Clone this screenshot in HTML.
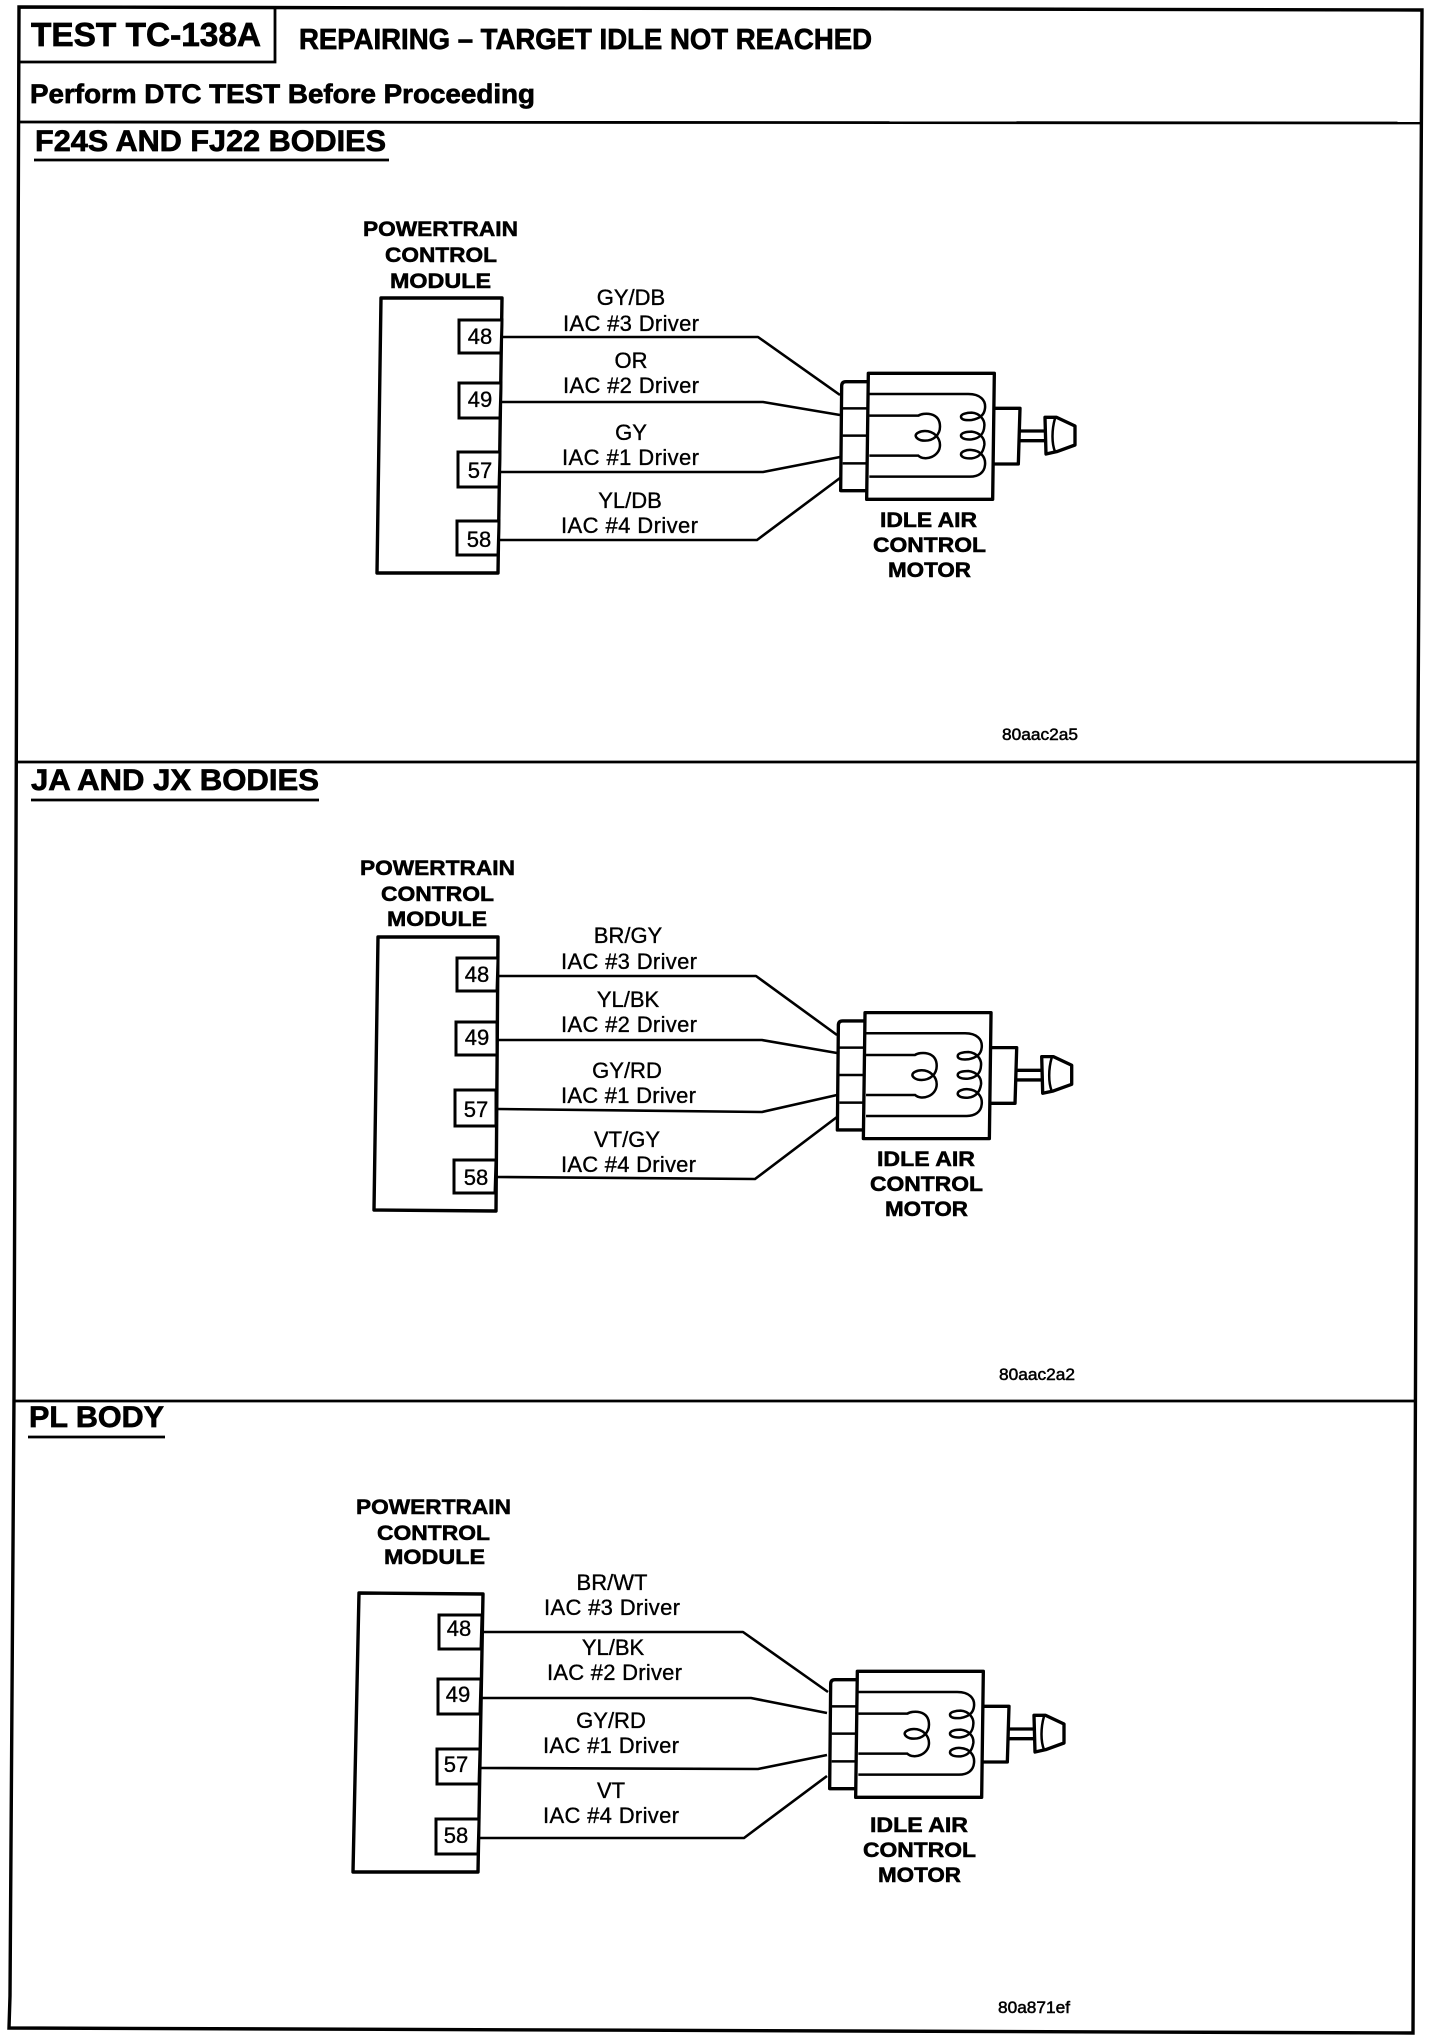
<!DOCTYPE html>
<html lang="en">
<head>
<meta charset="utf-8">
<title>Test TC-138A</title>
<style>
html,body{margin:0;padding:0;background:#fff}
svg{display:block}
text{font-family:"Liberation Sans",Arial,sans-serif;fill:#000}
.b{font-weight:bold;stroke:#000;stroke-width:.7}
.h{font-size:21px;font-weight:bold;stroke:#000;stroke-width:.55;text-anchor:start}
.t{font-size:22px;stroke:#000;stroke-width:.35}
.c{text-anchor:middle}
.f{font-size:16.5px;stroke:#000;stroke-width:.5}
.l{fill:none;stroke:#000;stroke-width:2.8}
.p{fill:#fff;stroke:#000;stroke-width:3}
.w{fill:none;stroke:#000;stroke-width:2.6;stroke-linejoin:round}
.m{fill:none;stroke:#000;stroke-width:10;stroke-linejoin:round}
.i{fill:none;stroke:#000;stroke-width:7.5}
</style>
</head>
<body>
<svg width="1440" height="2042" viewBox="0 0 1440 2042" xmlns="http://www.w3.org/2000/svg">
<defs>
<g id="motor">
<path class="m" d="M355 70H733L728 448H350Z"/>
<path class="m" d="M355 95H288Q275 95 275 108L272 422H350"/>
<path class="i" d="M278 175H355M278 257H352M278 340H350"/>
<path class="i" d="M358 132H655C690 132 708 150 705 175C703 195 690 205 665 210C640 212 633 207 633 200C633 192 650 188 665 188C690 190 705 210 703 228C702 250 690 265 665 268C640 270 633 262 633 257C633 248 650 245 665 245C690 248 705 265 703 285C700 305 690 322 665 325C640 327 633 318 633 313C633 305 650 298 665 300C690 302 708 320 705 345C703 368 685 380 660 380H358"/>
<path class="i" d="M358 197H505C520 187 570 185 570 230C570 255 550 272 525 272C505 272 497 262 497 257C497 250 510 243 525 243C550 243 570 262 570 285C570 320 525 335 505 317H358"/>
<path class="m" d="M733 175H810L805 342H730"/>
<path class="m" d="M810 243H885M810 272H885"/>
<path class="m" d="M885 202H920L975 228V285L920 305L888 312Z"/>
<path class="i" d="M915 205C905 240 905 280 915 305"/>
</g>
</defs>

<!-- page frame -->
<path fill="none" stroke="#000" stroke-width="3.4" d="M19 7L1422 10L1418 730L1413 2033L9 2028L10 1996L14 1396Z"/>
<path class="l" d="M275 8V62H20"/>
<path class="l" d="M19 122L1421 123"/>
<path class="l" d="M17 762L1418 762"/>
<path class="l" d="M14 1401L1415 1401"/>

<!-- header -->
<text class="b" x="31" y="46" font-size="33" textLength="230" lengthAdjust="spacingAndGlyphs">TEST TC-138A</text>
<text class="b" x="299" y="49" font-size="29" textLength="573" lengthAdjust="spacingAndGlyphs">REPAIRING – TARGET IDLE NOT REACHED</text>
<text class="b" x="30" y="103" font-size="27" textLength="505" lengthAdjust="spacingAndGlyphs">Perform DTC TEST Before Proceeding</text>

<!-- section titles -->
<text class="b" x="35" y="151" font-size="30" textLength="351" lengthAdjust="spacingAndGlyphs">F24S AND FJ22 BODIES</text>
<path class="l" d="M34 160H389"/>
<text class="b" x="31" y="790" font-size="30" textLength="288" lengthAdjust="spacingAndGlyphs">JA AND JX BODIES</text>
<path class="l" d="M31 800H319"/>
<text class="b" x="29" y="1427" font-size="30" textLength="135" lengthAdjust="spacingAndGlyphs">PL BODY</text>
<path class="l" d="M28 1437H165"/>

<!-- PANEL 1 -->
<text class="h" x="363" y="236" textLength="155" lengthAdjust="spacingAndGlyphs">POWERTRAIN</text>
<text class="h" x="385" y="262" textLength="112" lengthAdjust="spacingAndGlyphs">CONTROL</text>
<text class="h" x="390" y="288" textLength="101" lengthAdjust="spacingAndGlyphs">MODULE</text>
<path class="m" style="stroke-width:3.4" d="M381 298H502L498 573H377Z"/>
<path class="p" d="M502 320H459V353H501Z"/>
<path class="p" d="M501 383H459V418H500Z"/>
<path class="p" d="M500 452H458V487H499Z"/>
<path class="p" d="M499 521H457V555H498Z"/>
<text class="t c" x="480" y="344">48</text>
<text class="t c" x="480" y="407">49</text>
<text class="t c" x="480" y="478">57</text>
<text class="t c" x="479" y="547">58</text>
<path class="w" d="M503 337H758L840 395"/>
<path class="w" d="M502 402H763L840 415"/>
<path class="w" d="M500 472H763L840 457"/>
<path class="w" d="M498 540H757L840 478"/>
<text class="t c" x="631" y="305">GY/DB</text>
<text class="t" x="563" y="331" textLength="136">IAC #3 Driver</text>
<text class="t c" x="631" y="368">OR</text>
<text class="t" x="563" y="393" textLength="136">IAC #2 Driver</text>
<text class="t c" x="631" y="440">GY</text>
<text class="t" x="562" y="465" textLength="137">IAC #1 Driver</text>
<text class="t c" x="630" y="508">YL/DB</text>
<text class="t" x="561" y="533" textLength="137">IAC #4 Driver</text>
<use href="#motor" transform="translate(750 350) scale(.33333)"/>
<text class="h" x="880" y="527" textLength="97" lengthAdjust="spacingAndGlyphs">IDLE AIR</text>
<text class="h" x="873" y="552" textLength="113" lengthAdjust="spacingAndGlyphs">CONTROL</text>
<text class="h" x="888" y="577" textLength="83" lengthAdjust="spacingAndGlyphs">MOTOR</text>
<text class="f" x="1002" y="740" textLength="76" lengthAdjust="spacingAndGlyphs">80aac2a5</text>

<!-- PANEL 2 -->
<text class="h" x="360" y="875" textLength="155" lengthAdjust="spacingAndGlyphs">POWERTRAIN</text>
<text class="h" x="381" y="901" textLength="113" lengthAdjust="spacingAndGlyphs">CONTROL</text>
<text class="h" x="387" y="926" textLength="100" lengthAdjust="spacingAndGlyphs">MODULE</text>
<path class="m" style="stroke-width:3.4" d="M378 937H498L496 1211L374 1210Z"/>
<path class="p" d="M498 958H457V991H497Z"/>
<path class="p" d="M497 1022H456V1055H497Z"/>
<path class="p" d="M496 1090H455V1126H496Z"/>
<path class="p" d="M496 1160H454V1193H495Z"/>
<text class="t c" x="477" y="982">48</text>
<text class="t c" x="477" y="1045">49</text>
<text class="t c" x="476" y="1117">57</text>
<text class="t c" x="476" y="1185">58</text>
<path class="w" d="M498 976H756L837 1035"/>
<path class="w" d="M498 1040H762L837 1053"/>
<path class="w" d="M497 1109L762 1112L837 1095"/>
<path class="w" d="M496 1177L755 1179L837 1117"/>
<text class="t c" x="628" y="943">BR/GY</text>
<text class="t" x="561" y="969" textLength="136">IAC #3 Driver</text>
<text class="t c" x="628" y="1007">YL/BK</text>
<text class="t" x="561" y="1032" textLength="136">IAC #2 Driver</text>
<text class="t c" x="627" y="1078">GY/RD</text>
<text class="t" x="561" y="1103" textLength="135">IAC #1 Driver</text>
<text class="t c" x="627" y="1147">VT/GY</text>
<text class="t" x="561" y="1172" textLength="135">IAC #4 Driver</text>
<use href="#motor" transform="translate(746.7 989.3) scale(.33333)"/>
<text class="h" x="877" y="1166" textLength="98" lengthAdjust="spacingAndGlyphs">IDLE AIR</text>
<text class="h" x="870" y="1191" textLength="113" lengthAdjust="spacingAndGlyphs">CONTROL</text>
<text class="h" x="885" y="1216" textLength="83" lengthAdjust="spacingAndGlyphs">MOTOR</text>
<text class="f" x="999" y="1380" textLength="76" lengthAdjust="spacingAndGlyphs">80aac2a2</text>

<!-- PANEL 3 -->
<text class="h" x="356" y="1514" textLength="155" lengthAdjust="spacingAndGlyphs">POWERTRAIN</text>
<text class="h" x="377" y="1540" textLength="113" lengthAdjust="spacingAndGlyphs">CONTROL</text>
<text class="h" x="384" y="1564" textLength="101" lengthAdjust="spacingAndGlyphs">MODULE</text>
<path class="m" style="stroke-width:3.4" d="M359 1593L483 1594L478 1872H353Z"/>
<path class="p" d="M482 1615H439V1649H481Z"/>
<path class="p" d="M481 1679H438V1714H480Z"/>
<path class="p" d="M480 1749H437V1784H479Z"/>
<path class="p" d="M479 1819H436V1854H478Z"/>
<text class="t c" x="459" y="1636">48</text>
<text class="t c" x="458" y="1702">49</text>
<text class="t c" x="456" y="1772">57</text>
<text class="t c" x="456" y="1843">58</text>
<path class="w" d="M482 1632H743L828 1692"/>
<path class="w" d="M481 1698H751L827 1713"/>
<path class="w" d="M480 1768L758 1769L827 1755"/>
<path class="w" d="M479 1838H744L827 1776"/>
<text class="t c" x="612" y="1590">BR/WT</text>
<text class="t" x="544" y="1615" textLength="136">IAC #3 Driver</text>
<text class="t c" x="613" y="1655">YL/BK</text>
<text class="t" x="547" y="1680" textLength="135">IAC #2 Driver</text>
<text class="t c" x="611" y="1728">GY/RD</text>
<text class="t" x="543" y="1753" textLength="136">IAC #1 Driver</text>
<text class="t c" x="611" y="1798">VT</text>
<text class="t" x="543" y="1823" textLength="136">IAC #4 Driver</text>
<use href="#motor" transform="translate(739 1648) scale(.33333)"/>
<text class="h" x="870" y="1832" textLength="98" lengthAdjust="spacingAndGlyphs">IDLE AIR</text>
<text class="h" x="863" y="1857" textLength="113" lengthAdjust="spacingAndGlyphs">CONTROL</text>
<text class="h" x="878" y="1882" textLength="83" lengthAdjust="spacingAndGlyphs">MOTOR</text>
<text class="f" x="998" y="2013" textLength="72" lengthAdjust="spacingAndGlyphs">80a871ef</text>
</svg>
</body>
</html>
